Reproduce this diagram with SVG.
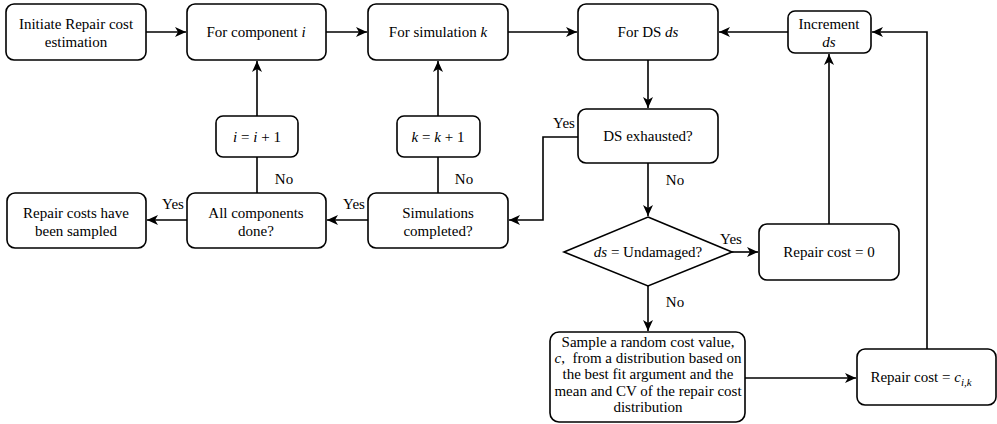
<svg xmlns="http://www.w3.org/2000/svg" width="997" height="424" viewBox="0 0 997 424">
<style>
.n{fill:#fff;stroke:#000;stroke-width:1.6}
text{font-family:'Liberation Serif','Times New Roman','DejaVu Serif',serif;font-size:15px;fill:#000;text-anchor:middle}
.i{font-style:italic}
.c{fill:none;stroke:#000;stroke-width:1.6}
</style>
<defs>
<marker id="a" markerUnits="userSpaceOnUse" markerWidth="12" markerHeight="10" refX="11" refY="5" orient="auto">
<path d="M0,0 L11,5 L0,10 L3,5 Z" fill="#000"/>
</marker>
</defs>
<rect width="997" height="424" fill="#fff"/>
<g font-family="Liberation Serif, Times New Roman, DejaVu Serif, serif">
<g id="connectors">
<path class="c" d="M146,32 H186" marker-end="url(#a)"/>
<path class="c" d="M326,32 H367" marker-end="url(#a)"/>
<path class="c" d="M508,32 H577" marker-end="url(#a)"/>
<path class="c" d="M788,32 H719" marker-end="url(#a)"/>
<path class="c" d="M648,60 V108" marker-end="url(#a)"/>
<path class="c" d="M578,137 H543 V220 H509" marker-end="url(#a)"/>
<path class="c" d="M648,163 V216" marker-end="url(#a)"/>
<path class="c" d="M732,252 H758" marker-end="url(#a)"/>
<path class="c" d="M648,286 V331" marker-end="url(#a)"/>
<path class="c" d="M745,378 H856" marker-end="url(#a)"/>
<path class="c" d="M927,349 V32 H872" marker-end="url(#a)"/>
<path class="c" d="M829,224 V54" marker-end="url(#a)"/>
<path class="c" d="M368,220 H327" marker-end="url(#a)"/>
<path class="c" d="M187,220 H147" marker-end="url(#a)"/>
<path class="c" d="M438,193 V157"/>
<path class="c" d="M438,116 V61" marker-end="url(#a)"/>
<path class="c" d="M257,193 V157"/>
<path class="c" d="M257,116 V61" marker-end="url(#a)"/>
<text x="173" y="209">Yes</text>
<text x="284" y="184">No</text>
<text x="354" y="209">Yes</text>
<text x="464" y="184">No</text>
<text x="564" y="128">Yes</text>
<text x="675" y="185">No</text>
<text x="731" y="244">Yes</text>
<text x="675" y="307">No</text>
</g>
<g id="initiate">
<rect class="n" x="6" y="4" width="140" height="56" rx="8"/>
<text x="76" y="29">Initiate Repair cost</text>
<text x="76" y="47">estimation</text>
</g>
<g id="component">
<rect class="n" x="187" y="4" width="139" height="56" rx="8"/>
<text x="256" y="37">For component <tspan class="i">i</tspan></text>
</g>
<g id="simulation">
<rect class="n" x="368" y="4" width="140" height="56" rx="8"/>
<text x="438" y="37">For simulation <tspan class="i">k</tspan></text>
</g>
<g id="forDS">
<rect class="n" x="578" y="4" width="140" height="56" rx="8"/>
<text x="648" y="37">For DS <tspan class="i">ds</tspan></text>
</g>
<g id="increment">
<rect class="n" x="788" y="11" width="83" height="42" rx="7"/>
<text x="829" y="29">Increment</text>
<text x="829" y="47" class="i">ds</text>
</g>
<g id="incI">
<rect class="n" x="216" y="116" width="82" height="41" rx="7"/>
<text x="257" y="142"><tspan class="i">i</tspan> = <tspan class="i">i</tspan> + 1</text>
</g>
<g id="incK">
<rect class="n" x="397" y="116" width="83" height="41" rx="7"/>
<text x="438" y="142"><tspan class="i">k</tspan> = <tspan class="i">k</tspan> + 1</text>
</g>
<g id="dsExhausted">
<rect class="n" x="578" y="109" width="140" height="54" rx="8"/>
<text x="648" y="141">DS exhausted?</text>
</g>
<g id="allComponents">
<rect class="n" x="187" y="193" width="139" height="55" rx="8"/>
<text x="256" y="218">All components</text>
<text x="256" y="236">done?</text>
</g>
<g id="sampled">
<rect class="n" x="7" y="193" width="139" height="55" rx="8"/>
<text x="76" y="218">Repair costs have</text>
<text x="76" y="236">been sampled</text>
</g>
<g id="simCompleted">
<rect class="n" x="368" y="193" width="140" height="55" rx="8"/>
<text x="438" y="218">Simulations</text>
<text x="438" y="236">completed?</text>
</g>
<g id="undamaged">
<polygon class="n" points="648,217 732,252 648,286 564,252"/>
<text x="648" y="257"><tspan class="i">ds</tspan> = Undamaged?</text>
</g>
<g id="cost0">
<rect class="n" x="759" y="224" width="140" height="56" rx="8"/>
<text x="829" y="257">Repair cost = 0</text>
</g>
<g id="sample">
<rect class="n" x="550" y="332" width="195" height="90" rx="9"/>
<text x="648" y="347">Sample a random cost value,</text>
<text x="648" y="363" xml:space="preserve"><tspan class="i">c</tspan>,  from a distribution based on</text>
<text x="648" y="379">the best fit argument and the</text>
<text x="648" y="396">mean and CV of the repair cost</text>
<text x="648" y="412">distribution</text>
</g>
<g id="costC">
<rect class="n" x="857" y="349" width="139" height="56" rx="8"/>
<text x="921" y="382">Repair cost = <tspan class="i">c</tspan><tspan class="i" font-size="11" dy="4">i,k</tspan></text>
</g>
</g>
</svg>
